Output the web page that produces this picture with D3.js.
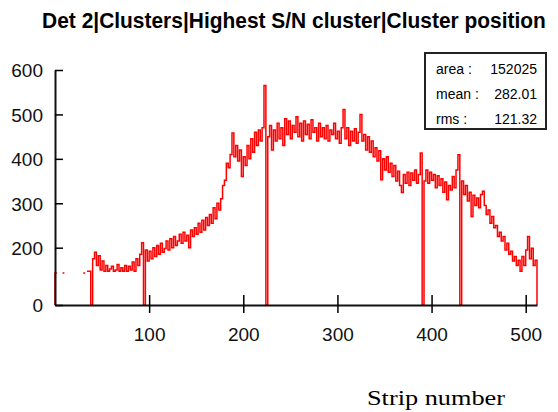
<!DOCTYPE html>
<html>
<head>
<meta charset="utf-8">
<script src="https://cdn.jsdelivr.net/npm/d3@7"></script>
<style>
  body { margin: 0; background: #fff; }
  svg { display: block; }
</style>
</head>
<body>
<div id="my_dataviz"></div>
<script>
// chart values, one entry per 2 strips (null = nothing drawn)
var title = "Det 2|Clusters|Highest S/N cluster|Cluster position";
var xLabel = "Strip number";
var binWidth = 2;
var counts = [
  143, null, null, null, 143, null, null, null, null, null,
  null, null, null, null, null, 143, null, 147, 147, 0,
  175, 190, 160, 182, 150, 170, 147, 160, 147, 152,
  158, 147, 150, 162, 147, 155, 147, 160, 147, 158,
  150, 168, 147, 175, 160, 185, 211, 0,
  195, 170, 192, 175, 200, 180, 205, 185, 210, 190,
  198, 215, 195, 220, 200, 225, 205, 215, 230, 210,
  235, 215, 228, 200, 240, 225, 245, 230, 255, 235,
  262, 240, 268, 250, 275, 255, 290, 265, 300, 285,
  310, 340,
  352, 390, 380, 410, 458, 405, 430, 395, 420, 360,
  405, 385, 430, 400, 445, 415, 460, 430, 465, 440, 470,
  565, 0,
  450, 475, 420, 465, 440, 480, 445, 470, 430, 490,
  455, 485, 445, 475, 460, 495, 450, 480, 440, 485,
  455, 478, 445, 488, 460, 470, 440, 480, 450, 470,
  445, 475, 440, 465, 455, 480, 445, 462, 435, 470,
  511,
  445, 470, 430, 462, 440, 468, 435, 460, 500, 440,
  455, 420, 450, 415, 440, 405, 425, 395, 418, 353,
  400, 375, 405, 370, 390, 360, 385, 350, 372, 340,
  324, 365, 345, 370, 340, 368, 352, 375, 345, 365,
  413, 0,
  350, 375, 345, 370, 352, 365, 335, 362, 340, 355,
  325, 348, 308, 340, 330, 360, 335, 375,
  409, 0,
  350, 320, 340, 305, 325, 270, 318, 295, 312, 290,
  320, 327, 295, 275, 285, 255, 270, 245, 250, 225,
  235, 215, 225, 195, 210, 185, 192, 170, 180, 160,
  172, 147, 180, 160, 195, 225, 175, 199, 160, 172
];
var xTicks = [100, 200, 300, 400, 500];
var yTicks = [0, 200, 300, 400, 500, 600];
var statNames = ["area :", "mean :", "rms :"];
var statValues = ["152025", "282.01", "121.32"];

var width = 558, height = 412;
var margin = {top: 70, right: 21, bottom: 107, left: 55};
var w = width - margin.left - margin.right,
    h = height - margin.top - margin.bottom;

var svg = d3.select("#my_dataviz")
  .append("svg")
    .attr("width", width)
    .attr("height", height);

var g = svg.append("g")
    .attr("transform", "translate(" + margin.left + "," + margin.top + ")");

// scales (the y axis starts a bit above zero, lower values sit on the floor)
var x = d3.scaleLinear().domain([0, 512]).range([0, w]);
var y = d3.scaleLinear().domain([71, 600]).range([h, 0]).clamp(true);

// title, squeezed horizontally to look like a narrow bold face
var titleText = svg.append("text")
    .attr("text-anchor", "middle")
    .style("font-family", "'Liberation Sans Narrow', 'Arial Narrow', 'Liberation Sans', sans-serif")
    .style("font-weight", "bold")
    .style("font-size", "22px")
    .text(title);
var natural = titleText.node().getComputedTextLength();
var sx = Math.min(1, 504 / natural);
titleText.attr("transform", "translate(294,28) scale(" + sx + ",1)");

// histogram as a step line
var pts = [[0, 0]];
counts.forEach(function(v, i) {
  pts.push([i * binWidth, v]);
  pts.push([(i + 1) * binWidth, v]);
});
pts.push([512, 0]);

var line = d3.line()
    .defined(function(d) { return d[1] !== null; })
    .x(function(d) { return x(d[0]); })
    .y(function(d) { return y(d[1]); });

g.append("path")
    .datum(pts)
    .attr("fill", "none")
    .attr("stroke", "#ff0000")
    .attr("stroke-width", 1.5)
    .attr("d", line);

// axes
var xAxis = g.append("g")
    .attr("transform", "translate(0," + h + ")")
    .call(d3.axisBottom(x).tickValues(xTicks).tickSize(8).tickPadding(15).tickSizeOuter(0));
xAxis.selectAll(".tick line").attr("y1", -10).attr("stroke-width", 1.5);

var yAxis = g.append("g")
    .call(d3.axisLeft(y).tickValues(yTicks).tickSize(7).tickPadding(5).tickSizeOuter(0));
yAxis.selectAll(".tick line").attr("x2", 8).attr("stroke-width", 1.5);

[xAxis, yAxis].forEach(function(a) {
  a.select(".domain").attr("stroke", "#111").attr("stroke-width", 2);
  a.selectAll("text")
    .style("font-family", "'Liberation Sans', Arial, sans-serif")
    .style("font-size", "19px")
    .attr("fill", "#111");
});
yAxis.selectAll(".tick text").attr("dy", "0.36em");

// stats box
var box = svg.append("g").attr("transform", "translate(425,53)");
box.append("rect")
    .attr("width", 121).attr("height", 76)
    .attr("fill", "#fff")
    .attr("stroke", "#222")
    .attr("stroke-width", 2);
statNames.forEach(function(n, i) {
  box.append("text").attr("x", 11).attr("y", 21 + i * 25).text(n)
    .style("font-family", "'Liberation Sans', Arial, sans-serif").style("font-size", "14px");
  box.append("text").attr("x", 112).attr("y", 21 + i * 25).text(statValues[i])
    .attr("text-anchor", "end")
    .style("font-family", "'Liberation Sans', Arial, sans-serif").style("font-size", "14px");
});

// axis title
svg.append("text")
    .attr("x", 367).attr("y", 405)
    .attr("textLength", 138)
    .attr("lengthAdjust", "spacingAndGlyphs")
    .style("font-family", "'Liberation Serif', 'Times New Roman', serif")
    .style("font-size", "21px")
    .text(xLabel);
</script>
</body>
</html>
